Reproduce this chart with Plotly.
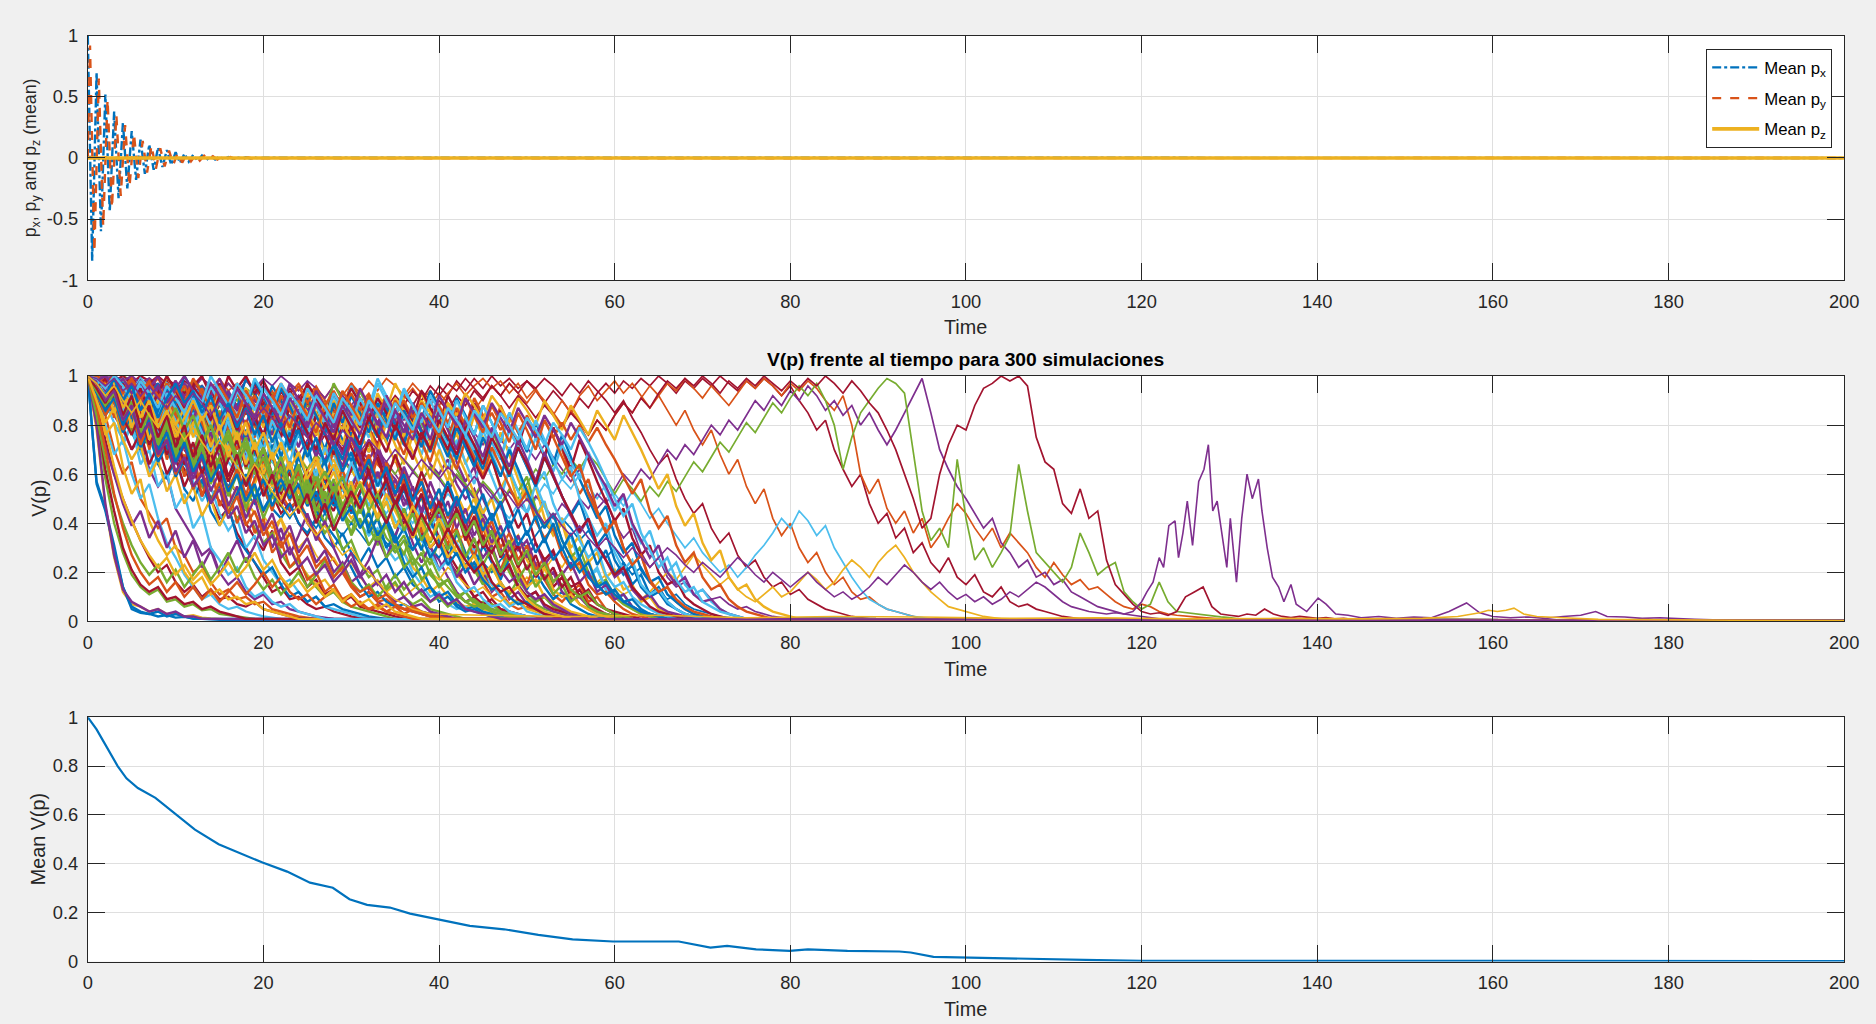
import plotly.graph_objects as go

# ---------------- colours (MATLAB default order) ----------------
C_BLUE, C_ORANGE, C_YELLOW = "#0072BD", "#D95319", "#EDB120"
C_PURPLE, C_GREEN, C_CYAN, C_RED = "#7E2F8E", "#77AC30", "#4DBEEE", "#A2142F"
PALETTE = [C_BLUE, C_ORANGE, C_YELLOW, C_PURPLE, C_GREEN, C_CYAN, C_RED]

# ---------------- axis ticks ----------------
x_ticks = [0, 20, 40, 60, 80, 100, 120, 140, 160, 180, 200]
x_tick_labels = ["0", "20", "40", "60", "80", "100", "120", "140", "160", "180", "200"]
p_ticks = [-1, -0.5, 0, 0.5, 1]
p_tick_labels = ["-1", "-0.5", "0", "0.5", "1"]
v_ticks = [0, 0.2, 0.4, 0.6, 0.8, 1]
v_tick_labels = ["0", "0.2", "0.4", "0.6", "0.8", "1"]
T_END = 200

# ---------------- top panel: mean px, py, pz ----------------
P_DT = 0.5
px_v = [1, -.84, .70, -.6, .52, -.44, .38, -.33, .29, -.25, .22, -.18, .15, -.13, .11, -.097,
        .085, -.074, .065, -.056, .048, -.041, .035, -.03, .026, -.023, .02, -.017, .015, -.013,
        .011, -.0095, .008, -.007, .0062, -.0055, .005, -.0043, .0037, -.0032, .003]
py_v0 = 0
py_v = [.92, -.77, .65, -.56, .48, -.41, .355, -.31, .27, -.235, .2, -.165, .14, -.12, .103, -.09,
        .08, -.07, .06, -.052, .044, -.038, .032, -.028, .024, -.021, .018, -.016, .014, -.012,
        .0102, -.0088, .0075, -.0065, .0058, -.0051, .0046, -.004, .0035, -.003]
py_offset = 0.25
pz_t = [0, 200]
pz_v = [0, 0]

# ---------------- middle panel: V(p) simulations, values at t = 0, 1, 2, ... ----------------
SIM_DT = 1.0
TAIL_V = 0.002

# group read as fractions
sim_a1 = [1, .56, .45, .3, .14, .05, .035, .03, .02, .025, .015, .018, .012, .01, .008, .006]
sim_a2 = [1, .78, .47, .26, .12, .07, .06, .04, .05, .03, .035, .02, .025, .015, .012, .01, .008]
sim_a3 = [1, .83, .58, .4, .28, .19, .14, .11, .13, .08, .09, .06, .07, .045, .05, .03, .025, .02, .015, .01]
sim_a4 = [1, .9, .74, .6, .5, .41, .33, .26, .2, .23, .16, .12, .15, .1, .13, .09, .1, .07, .06, .08, .05, .04, .03, .02, .015, .01]
sim_a5 = [1, .94, .8, .68, .74, .6, .5, .56, .42, .32, .26, .19, .14, .09, .11, .07, .05, .06, .04, .03, .02, .015, .01]
sim_a6 = [1, .9, .84, .7, .6, .65, .5, .44, .38, .42, .3, .27, .2, .23, .16, .11, .13, .09, .1, .07, .08, .05, .04, .03, .02, .015, .01]
sim_a7 = [1, .97, .9, .84, .78, .7, .75, .62, .55, .6, .46, .4, .34, .27, .3, .2, .15, .18, .12, .09, .11, .07, .08, .05, .04, .03, .02, .015, .01]

sim_b1 = [1, .96, .91, .84, .9, .77, .7, .76, .64, .58, .67, .54, .49, .58, .45, .39, .47, .34, .29, .24, .19, .22, .15, .1, .12, .08, .1, .06, .07, .05, .04, .03, .02, .015, .01]
sim_b2 = [1, 1, .95, .89, .95, .84, .9, .79, .74, .82, .7, .64, .72, .6, .54, .49, .44, .52, .4, .34, .29, .37, .24, .19, .22, .14, .17, .11, .13, .08, .1, .06, .05, .04, .03, .02, .015, .01]
sim_b3 = [1, .98, 1, .94, .87, .92, .85, .79, .86, .9, .81, .74, .69, .78, .64, .59, .54, .62, .49, .44, .39, .34, .42, .3, .24, .19, .15, .17, .12, .09, .11, .07, .05, .06, .04, .03, .02, .015, .01]
sim_b4 = [1, .94, .89, .81, .74, .8, .69, .61, .68, .72, .6, .65, .57, .49, .55, .44, .37, .42, .3, .35, .25, .2, .15, .17, .12, .08, .1, .06, .05, .04, .03, .02, .015, .01]
sim_b5 = [1, 1, .98, 1, .95, .9, .97, .92, .85, .9, .95, .88, .82, .86, .78, .72, .8, .75, .68, .6, .65, .55, .5, .45, .5, .4, .35, .3, .25, .2, .15, .1, .12, .08, .06, .07, .05, .04, .03, .02, .015, .01]
sim_b6 = [1, .96, .9, .93, .86, .8, .84, .76, .7, .74, .66, .6, .64, .55, .5, .56, .48, .42, .46, .38, .32, .36, .28, .22, .25, .18, .14, .1, .12, .08, .06, .05, .04, .03, .02, .01]
sim_b7 = [1, .99, .97, .93, .96, .9, .94, .88, .92, .86, .8, .85, .78, .82, .76, .7, .74, .66, .7, .62, .56, .6, .52, .46, .5, .42, .36, .3, .25, .2, .14, .1, .12, .08, .09, .06, .05, .04, .03, .02, .01]
sim_b8 = [1, .98, .92, .96, .88, .82, .86, .78, .72, .76, .68, .62, .55, .6, .5, .42, .46, .36, .3, .24, .18, .12, .14, .09, .1, .07, .05, .06, .04, .03, .02, .015, .01]
sim_b9 = [1, 1, .97, .99, .94, .97, .9, .94, .88, .84, .9, .85, .8, .86, .82, .76, .8, .72, .78, .7, .64, .68, .6, .55, .6, .5, .45, .4, .35, .3, .22, .15, .1, .12, .08, .06, .07, .05, .04, .03, .02, .015, .01]

sim_c1 = [1, 1, .98, 1, .97, .99, .95, .98, .93, .97, .92, .96, .9, .94, .88, .93, .9, .86, .92, .88, .84, .9, .85, .8, .86, .82, .78, .84, .76, .72, .78, .7, .66, .72, .62, .58, .5, .44, .38, .3, .25, .18, .12, .08, .1, .06, .05, .04, .03, .02, .015, .01]
sim_c2 = [1, .97, .93, .96, .9, .85, .9, .83, .78, .84, .8, .74, .7, .76, .68, .72, .65, .6, .66, .58, .62, .55, .6, .52, .56, .48, .52, .45, .5, .42, .46, .4, .35, .38, .3, .25, .28, .2, .15, .1, .12, .07, .05, .06, .04, .03, .02, .015, .01]
sim_c3 = [1, .99, .96, .98, .94, .9, .95, .88, .92, .85, .8, .86, .78, .74, .8, .7, .66, .72, .64, .58, .62, .55, .5, .56, .48, .52, .45, .5, .55, .48, .42, .46, .4, .35, .4, .32, .28, .22, .18, .12, .15, .1, .08, .06, .07, .05, .04, .03, .02, .015, .01]
sim_c4 = [1, 1, 1, .98, 1, .97, 1, .98, .95, .99, .96, .93, .97, .94, .9, .95, .92, .88, .93, .9, .86, .9, .84, .88, .82, .78, .84, .8, .75, .7, .76, .68, .62, .66, .58, .52, .56, .46, .4, .44, .34, .28, .22, .16, .1, .12, .07, .05, .04, .03, .02, .015, .01]
sim_c5 = [1, .98, .94, .97, .91, .95, .88, .92, .86, .82, .88, .8, .76, .82, .74, .7, .76, .68, .72, .64, .6, .66, .58, .62, .54, .58, .5, .46, .52, .44, .4, .46, .38, .42, .34, .3, .35, .26, .22, .26, .18, .14, .1, .12, .07, .08, .05, .04, .03, .02, .01]
sim_c6 = [1, 1, .97, .99, .95, .98, .93, .96, .99, .94, .97, .92, .95, .9, .94, .88, .92, .86, .9, .84, .88, .92, .85, .8, .86, .82, .76, .8, .74, .7, .75, .68, .72, .64, .6, .66, .56, .5, .54, .46, .4, .34, .38, .28, .22, .16, .1, .12, .07, .05, .06, .04, .03, .02, .01]
sim_c7 = [1, .96, .9, .94, .86, .9, .82, .78, .84, .76, .7, .74, .66, .62, .68, .6, .55, .6, .52, .48, .54, .46, .42, .48, .4, .36, .42, .34, .3, .36, .28, .24, .3, .22, .26, .18, .22, .15, .12, .14, .08, .1, .06, .04, .05, .03, .02, .015, .01]
sim_c8 = [1, 1, .99, 1, .98, 1, .97, .99, .96, .98, .94, .97, .93, .96, .92, .95, .9, .94, .88, .92, .96, .9, .94, .88, .92, .86, .9, .84, .88, .82, .86, .8, .84, .78, .74, .8, .72, .68, .74, .64, .6, .66, .56, .5, .54, .44, .38, .3, .22, .15, .1, .12, .06, .04, .03, .02, .01]
sim_c9 = [1, .98, 1, .96, .99, .94, .97, .92, .95, .9, .94, .88, .92, .86, .9, .84, .88, .82, .86, .8, .76, .82, .74, .7, .76, .68, .72, .64, .68, .6, .56, .62, .54, .5, .56, .48, .44, .5, .42, .38, .44, .36, .32, .26, .3, .2, .15, .1, .06, .08, .04, .03, .02, .01]
sim_c10 = [1, .97, .92, .95, .88, .84, .9, .82, .78, .72, .78, .7, .65, .72, .6, .66, .58, .52, .58, .5, .45, .52, .44, .48, .4, .35, .42, .5, .45, .55, .5, .6, .54, .48, .55, .46, .4, .45, .36, .3, .34, .25, .2, .15, .1, .07, .09, .05, .04, .03, .02, .01]
sim_c11 = [1, 1, .98, .95, .98, .92, .96, .9, .94, .88, .82, .88, .8, .85, .9, .84, .88, .8, .75, .8, .72, .78, .7, .75, .68, .62, .68, .6, .66, .58, .62, .55, .6, .52, .58, .5, .54, .46, .5, .42, .46, .38, .32, .36, .28, .22, .16, .1, .07, .09, .05, .04, .03, .02, .01]
sim_c12 = [1, .99, 1, .97, 1, .98, .95, .99, .96, .93, .97, .94, .98, .95, .92, .96, .93, .9, .95, .92, .88, .93, .9, .86, .91, .88, .84, .9, .86, .82, .88, .84, .8, .86, .82, .78, .84, .8, .75, .7, .76, .68, .62, .56, .5, .42, .35, .28, .2, .14, .1, .07, .05, .04, .03, .02, .01]

sim_d1 = [1, .98, 1, .96, .99, .94, .98, .95, .99, .93, .97, .92, .96, .9, .95, .99, .94, .97, .91, .95,
          .89, .94, .88, .93, .97, .92, .96, .9, .85, .9, .84, .89, .93, .87, .92, .86, .91, .95, .9, .94,
          .88, .93, .97, .92, .96, .99, .95, .98, .93, .97, .91, .95, .89, .84, .9, .85, .92, .96, .9, .94,
          .98, .93, .97, .92, .87, .92, .86, .8, .86, .78, .72, .78, .68, .6, .66, .55, .48, .54, .42, .35,
          .4, .3, .24, .28, .2, .15, .18, .12, .09, .1, .07, .05, .04, .03, .02, .01]
sim_d2 = [1, 1, .97, 1, .98, .95, .99, .96, 1, .97, .94, .98, .95, .99, .96, .92, .97, .93, .98, .95,
          .91, .86, .92, .88, .83, .89, .85, .8, .86, .82, .77, .83, .79, .85, .9, .86, .92, .88, .94, .9,
          .96, .92, .98, .94, .99, .95, 1, .96, .99, .95, .98, .94, .89, .94, .9, .85, .91, .87, .93, .97,
          .93, .98, .95, .99, .96, 1, .97, .93, .98, .95, .99, .96, 1, .97, .94, .98, .95, .99, .96, .92,
          .96, .9, .85, .78, .82, .7, .62, .55, .6, .48, .4, .44, .34, .38, .28, .32, .24, .2, .26, .18,
          .15, .19, .12, .1, .14, .08, .06, .07, .05, .04, .03, .02, .015, .01]
sim_d3 = [1, .97, .93, .97, .91, .95, .89, .94, .9, .85, .91, .86, .81, .87, .82, .78, .84, .8, .75, .81,
          .76, .71, .77, .73, .68, .74, .7, .65, .71, .67, .62, .68, .64, .59, .65, .6, .55, .61, .57, .63,
          .58, .53, .59, .55, .5, .56, .52, .47, .53, .49, .45, .51, .47, .42, .48, .44, .5, .46, .52, .48,
          .54, .6, .56, .62, .58, .64, .7, .66, .72, .68, .74, .8, .76, .82, .78, .84, .9, .86, .92, .88,
          .94, .9, .96, .92, .86, .9, .84, .88, .8, .85, .78, .72, .78, .85, .92, .99, .85, .7, .62, .55,
          .5, .44, .38, .42, .32, .28, .22, .25, .18, .2, .15, .17, .12, .1, .08, .06, .05, .04, .03, .025,
          .02, .015, .01]
sim_d4 = [1, .96, .92, .95, .89, .93, .87, .82, .88, .84, .79, .85, .8, .75, .81, .77, .72, .78, .74, .69,
          .75, .7, .65, .71, .67, .62, .68, .64, .7, .66, .61, .67, .63, .58, .64, .6, .66, .62, .57, .63,
          .59, .54, .6, .56, .51, .57, .53, .48, .54, .5, .56, .62, .58, .64, .6, .66, .62, .68, .64, .58,
          .52, .58, .54, .49, .55, .51, .57, .53, .59, .65, .61, .67, .73, .69, .75, .81, .77, .83, .89, .85,
          .91, .96, .92, .97, .9, .8, .62, .75, .85, .9, .95, .99, .97, .93, .7, .45, .33, .38, .3, .66,
          .42, .25, .3, .22, .28, .35, .64, .45, .28, .24, .2, .16, .22, .36, .28, .19, .22, .24, .12, .08,
          .05, .07, .16, .08, .04, .035, .03, .025, .02, .018, .015, .01]
sim_d5 = [1, .95, .98, .92, .86, .91, .85, .8, .86, .81, .76, .82, .77, .72, .78, .73, .68, .74, .69, .64,
          .7, .65, .6, .66, .61, .56, .62, .57, .52, .58, .53, .48, .54, .49, .44, .5, .45, .4, .46, .41,
          .47, .52, .48, .54, .5, .45, .51, .46, .42, .48, .44, .5, .56, .52, .58, .54, .6, .55, .5, .56,
          .52, .47, .53, .48, .42, .46, .4, .35, .3, .34, .28, .24, .2, .23, .18, .22, .27, .31, .36, .42,
          .38, .45, .41, .35, .39, .3, .24, .18, .13, .09, .07, .05, .04, .03, .02, .015, .01]
sim_d6 = [1, .94, .88, .92, .85, .79, .84, .77, .71, .76, .7, .64, .69, .62, .57, .63, .58, .52, .57, .51,
          .46, .52, .47, .42, .48, .43, .38, .44, .39, .35, .4, .36, .31, .36, .32, .28, .33, .29, .34, .3,
          .26, .31, .27, .23, .28, .24, .2, .25, .29, .34, .3, .35, .4, .36, .42, .38, .33, .37, .31, .26,
          .3, .24, .19, .22, .16, .12, .09, .11, .07, .05, .04, .03, .02, .015, .01]
sim_d7 = [1, .96, .9, .94, .87, .82, .88, .81, .75, .8, .73, .67, .72, .65, .6, .54, .59, .52, .46, .5,
          .43, .38, .42, .35, .3, .34, .27, .22, .26, .2, .24, .18, .14, .17, .12, .15, .1, .13, .16, .2,
          .17, .22, .19, .15, .12, .14, .1, .08, .11, .14, .18, .15, .21, .26, .22, .28, .24, .2, .16, .19,
          .14, .11, .13, .09, .12, .16, .2, .17, .22, .27, .23, .19, .15, .18, .13, .1, .08, .11, .14, .1,
          .12, .16, .2, .17, .13, .16, .21, .25, .22, .18, .24, .28, .31, .26, .2, .16, .12, .09, .06, .05,
          .04, .03, .02, .015, .01]
sim_d8 = [1, .98, .95, .99, .96, .92, .97, .94, .9, .95, .91, .87, .92, .88, .84, .9, .86, .81, .87, .83,
          .89, .85, .9, .95, .91, .96, .92, .88, .93, .89, .84, .9, .86, .81, .86, .82, .77, .83, .79, .85,
          .9, .86, .92, .88, .94, .9, .96, .92, .97, .93, .98, .95, .99, .96, .92, .97, .93, .98, .94, .9,
          .85, .9, .83, .77, .7, .64, .68, .58, .5, .44, .48, .38, .32, .36, .27, .22, .25, .18, .14, .16,
          .11, .13, .09, .07, .05, .04, .03, .02, .015, .01]
sim_d9 = [1, .97, .93, .97, .92, .88, .93, .89, .84, .9, .86, .81, .87, .83, .78, .84, .8, .75, .81, .77,
          .82, .87, .83, .89, .85, .9, .95, .91, .96, .92, .97, .93, .98, .94, .99, .96, .92, .97, .93, .88,
          .93, .89, .84, .9, .86, .91, .96, .92, .97, .93, .89, .94, .9, .85, .8, .86, .81, .76, .82, .78,
          .84, .89, .85, .91, .96, .92, .97, .94, .99, .95, .91, .96, .92, .88, .93, .98, .95, .99, .96, .92,
          .97, .94, .98, .95, .9, .86, .92, .8, .6, .52, .58, .46, .4, .45, .36, .42, .3, .35, .42, .48,
          .44, .38, .33, .38, .3, .36, .32, .28, .22, .18, .24, .19, .15, .17, .13, .14, .11, .08, .06, .05,
          .07, .06, .04, .03, .025, .02, .018, .015, .012, .01]
sim_d10 = [1, .98, 1, .96, .99, .95, .98, .94, .97, .93, .96, .92, .95, .99, .96, .92, .97, .93, .98, .95,
           .99, .96, 1, .97, .94, .98, .95, .91, .96, .92, .88, .93, .89, .85, .9, .86, .82, .87, .83, .79,
           .84, .8, .76, .81, .77, .72, .78, .74, .7, .75, .71, .66, .72, .67, .62, .57, .62, .53, .46, .5,
           .4, .34, .38, .28, .22, .26, .18, .14, .16, .11, .13, .09, .1, .07, .05, .06, .04, .03, .02, .015, .01]

sim_e1 = [1, 1, .97, .99, .95, .98, .93, .96, .91, .95, .9, .86, .91, .87, .82, .88, .84, .79, .85, .81,
          .76, .82, .78, .73, .79, .75, .7, .76, .72, .78, .83, .79, .85, .81, .87, .92, .88, .94, .9, .96,
          .92, .97, .94, .99, .95, .91, .96, .92, .87, .92, .88, .83, .88, .84, .79, .85, .81, .76, .82, .78,
          .84, .89, .85, .91, .87, .93, .98, .95, .99, .96, 1, .97, .93, .98, .95, .99, .96, 1, .97, .94,
          .98, .95, .99, .96, 1, .97, .93, .98, .94, .89, .85, .78, .7, .6, .5, .38, .42, .6, .72, .8,
          .78, .88, .95, .97, 1, .98, 1, .96, .75, .65, .62, .48, .44, .54, .42, .45, .25, .15, .11, .07,
          .04, .03, .035, .025, .04, .1, .12, .14, .06, .03, .025, .02, .03, .025, .05, .03, .02, .015, .02, .015,
          .012, .015, .01, .012, .008, .01, .008, .006, .007, .005]
sim_e2 = [1, .99, .96, .99, .94, .97, .92, .96, .91, .87, .92, .88, .93, .89, .84, .9, .86, .81, .86, .82,
          .87, .83, .78, .84, .8, .75, .81, .77, .72, .78, .74, .69, .74, .7, .65, .7, .66, .61, .66, .62,
          .58, .63, .59, .54, .59, .55, .5, .55, .51, .46, .5, .45, .4, .44, .39, .35, .39, .34, .3, .34,
          .3, .26, .3, .26, .22, .26, .3, .27, .23, .2, .24, .21, .18, .22, .26, .23, .19, .16, .2, .17,
          .14, .17, .2, .16, .13, .1, .12, .09, .11, .14, .18, .15, .19, .23, .2, .16, .13, .16, .12, .09,
          .11, .08, .1, .07, .09, .12, .1, .13, .16, .14, .11, .08, .06, .05, .04, .035, .03, .035, .03]
sim_e2_late_t = [119, 120, 120.6, 121.3, 122, 122.5, 123.1, 123.8, 124.2, 124.7, 125.2, 125.8, 126.5,
                 127.1, 127.6, 128.1, 128.6, 129.2, 129.7, 130.1, 130.8, 131.4, 132, 132.6, 133.3,
                 133.7, 134.3, 134.9, 135.6, 136.2, 137, 137.6, 138.8, 140.1, 141, 142.1, 143.5, 145,
                 147, 149, 151, 153, 155, 157, 158.5, 160, 162, 164, 166, 168, 170, 171.7, 173, 175,
                 177, 179, 181, 183, 185, 188, 190]
sim_e2_late_v = [.04, .08, .12, .16, .26, .22, .39, .41, .26, .36, .49, .31, .57,
                 .62, .72, .45, .49, .35, .22, .42, .16, .42, .6, .5, .58,
                 .45, .3, .18, .14, .08, .15, .07, .04, .095, .07, .03, .025, .015,
                 .02, .012, .018, .015, .04, .075, .035, .02, .015, .018, .012, .02, .025, .04, .02, .018,
                 .012, .015, .01, .008, .006, .004, .003]
sim_e4 = [1, .97, .92, .96, .9, .85, .9, .84, .79, .85, .8, .74, .79, .73, .68, .74, .69, .63, .58, .64,
          .59, .53, .48, .43, .47, .4, .35, .39, .32, .27, .3, .24, .2, .16, .12, .09, .07, .05, .04, .03]
sim_e4_late_t = [45, 55, 65, 75, 85, 95, 105, 115, 125, 135, 145, 152, 156, 158.5, 159.5, 160.5,
                 161.5, 162.4, 163.5, 165, 168, 172]
sim_e4_late_v = [.025, .02, .025, .015, .02, .018, .012, .015, .01, .012, .01, .012, .02, .035, .045,
                 .04, .045, .054, .03, .02, .015, .008]

# dense "wall" group, read in percent
PCT = 0.01
wall_01 = [100, 57, 46, 31, 14, 6, 4, 3, 4, 2, 3, 2, 1]
wall_02 = [100, 80, 48, 27, 13, 8, 6, 4, 5, 3, 4, 2, 2, 1]
wall_03 = [100, 85, 62, 45, 30, 21, 15, 12, 14, 9, 10, 7, 8, 5, 6, 4, 3, 2, 1]
wall_04 = [100, 92, 76, 81, 63, 52, 58, 41, 33, 27, 31, 20, 15, 18, 11, 13, 9, 10, 7, 8, 5, 4, 3, 2, 1]
wall_05 = [100, 96, 84, 90, 72, 80, 64, 70, 55, 61, 46, 52, 38, 44, 30, 25, 19, 22, 14, 10, 12, 8, 6, 7, 4, 3, 2, 1]
wall_06 = [100, 91, 98, 83, 94, 77, 88, 70, 82, 66, 75, 59, 70, 51, 63, 47, 55, 40, 49, 36, 42, 28, 33, 22, 26, 17, 20, 12, 15, 9, 11, 7, 5, 6, 4, 3, 2, 1]
wall_07 = [100, 97, 85, 99, 88, 76, 91, 80, 94, 83, 72, 87, 78, 90, 74, 86, 68, 79, 62, 74, 58, 69, 53, 64, 47, 58, 43, 36, 41, 29, 33, 24, 18, 21, 13, 16, 10, 7, 9, 5, 4, 3, 2, 1]
wall_08 = [100, 100, 92, 99, 86, 95, 80, 91, 97, 85, 93, 78, 89, 96, 84, 72, 88, 79, 92, 83, 70, 81, 67, 77, 61, 73, 57, 66, 50, 59, 44, 51, 36, 42, 30, 35, 24, 18, 22, 14, 10, 12, 7, 5, 6, 4, 3, 2, 1]
wall_09 = [100, 94, 87, 95, 79, 88, 73, 84, 69, 78, 64, 72, 58, 67, 53, 61, 47, 55, 42, 50, 37, 44, 33, 39, 28, 34, 24, 29, 20, 24, 16, 19, 13, 16, 11, 8, 10, 6, 7, 4, 3, 2, 1]
wall_10 = [100, 99, 93, 100, 90, 97, 85, 94, 88, 99, 91, 82, 95, 87, 78, 90, 83, 96, 89, 80, 92, 84, 75, 88, 79, 70, 84, 76, 68, 80, 71, 63, 74, 66, 57, 68, 59, 50, 61, 52, 44, 55, 46, 38, 30, 35, 25, 19, 23, 14, 10, 12, 7, 5, 4, 3, 2, 1]
wall_11 = [100, 97, 100, 92, 99, 94, 86, 97, 90, 100, 93, 85, 96, 88, 79, 91, 84, 95, 87, 99, 92, 84, 96, 89, 81, 93, 85, 77, 90, 82, 73, 86, 78, 69, 81, 72, 64, 76, 67, 58, 70, 61, 52, 44, 50, 39, 31, 36, 25, 20, 14, 17, 10, 8, 6, 4, 3, 2, 1]
wall_12 = [100, 95, 88, 96, 82, 91, 77, 86, 71, 80, 66, 75, 62, 71, 56, 65, 51, 60, 46, 55, 42, 51, 47, 56, 50, 59, 45, 53, 40, 48, 35, 42, 31, 37, 26, 31, 22, 26, 17, 21, 14, 17, 11, 8, 6, 7, 4, 3, 2, 1]
wall_13 = [100, 100, 97, 100, 94, 99, 91, 97, 100, 93, 98, 90, 96, 100, 92, 97, 89, 95, 100, 93, 98, 91, 86, 94, 88, 97, 91, 84, 93, 87, 95, 89, 82, 91, 85, 78, 88, 81, 74, 85, 77, 70, 81, 73, 65, 58, 66, 55, 47, 38, 44, 32, 25, 29, 19, 14, 16, 10, 7, 5, 4, 3, 2, 1]
wall_14 = [100, 93, 84, 90, 78, 86, 72, 81, 67, 74, 60, 68, 54, 62, 48, 57, 44, 51, 39, 45, 35, 41, 30, 36, 26, 31, 22, 26, 18, 22, 15, 12, 14, 9, 11, 7, 5, 6, 4, 3, 2, 1]
wall_15 = [100, 98, 100, 96, 88, 97, 91, 83, 95, 87, 98, 91, 82, 93, 86, 76, 89, 80, 71, 84, 76, 88, 81, 72, 85, 77, 67, 80, 72, 63, 75, 67, 58, 70, 61, 51, 63, 54, 45, 57, 48, 39, 50, 41, 33, 26, 31, 21, 16, 19, 12, 9, 11, 7, 5, 3, 2, 1]
wall_16 = [100, 96, 90, 97, 86, 93, 81, 89, 76, 85, 92, 84, 77, 88, 80, 71, 83, 75, 66, 78, 70, 82, 74, 65, 77, 68, 59, 71, 62, 53, 65, 56, 47, 58, 50, 41, 36, 44, 33, 28, 21, 25, 16, 12, 14, 9, 6, 7, 4, 3, 2, 1]
wall_17 = [100, 99, 95, 100, 97, 91, 98, 93, 86, 95, 89, 100, 94, 87, 97, 90, 82, 93, 86, 98, 92, 84, 95, 88, 80, 91, 84, 76, 89, 81, 92, 85, 77, 89, 82, 74, 86, 79, 71, 83, 75, 67, 79, 71, 63, 75, 67, 59, 70, 62, 53, 45, 38, 44, 33, 26, 20, 24, 15, 11, 13, 8, 6, 4, 3, 2, 1]
wall_18 = [100, 92, 97, 85, 93, 79, 88, 74, 83, 90, 80, 87, 75, 84, 71, 80, 67, 77, 64, 73, 60, 69, 56, 65, 52, 61, 67, 58, 64, 55, 48, 57, 50, 43, 52, 45, 38, 47, 40, 33, 42, 35, 28, 22, 27, 18, 13, 16, 10, 7, 8, 5, 3, 2, 1]
wall_19 = [100, 100, 94, 99, 90, 97, 86, 95, 100, 92, 98, 89, 95, 84, 92, 99, 91, 86, 94, 88, 81, 92, 86, 97, 90, 83, 94, 87, 79, 91, 84, 95, 88, 80, 92, 85, 77, 89, 82, 74, 86, 78, 70, 82, 75, 67, 79, 71, 63, 74, 66, 57, 69, 60, 51, 43, 36, 42, 31, 25, 18, 21, 13, 9, 11, 6, 4, 3, 2, 1]
wall_20 = [100, 97, 89, 95, 84, 91, 78, 87, 73, 82, 68, 77, 63, 72, 80, 70, 78, 67, 75, 63, 71, 59, 67, 55, 63, 51, 59, 47, 55, 43, 50, 38, 45, 33, 39, 28, 33, 23, 28, 19, 15, 17, 11, 8, 9, 6, 4, 3, 2, 1]
wall_21 = [100, 98, 92, 99, 95, 88, 96, 90, 83, 93, 87, 80, 91, 84, 96, 89, 82, 94, 88, 99, 93, 86, 97, 91, 84, 95, 89, 82, 93, 87, 80, 91, 85, 97, 90, 83, 94, 88, 81, 92, 86, 79, 90, 83, 76, 88, 81, 73, 85, 78, 70, 82, 74, 66, 58, 63, 50, 42, 35, 40, 28, 21, 25, 15, 11, 13, 8, 5, 3, 2, 1]
wall_22 = [100, 95, 99, 91, 97, 88, 95, 85, 93, 100, 94, 87, 96, 90, 82, 92, 86, 78, 89, 83, 76, 87, 80, 73, 84, 77, 70, 81, 74, 86, 79, 72, 83, 76, 69, 80, 73, 66, 77, 70, 82, 75, 68, 79, 72, 64, 75, 68, 60, 71, 64, 56, 67, 59, 51, 44, 37, 42, 31, 25, 19, 22, 14, 10, 6, 4, 3, 2, 1]
wall_23 = [100, 93, 86, 91, 80, 87, 75, 82, 70, 77, 65, 73, 61, 68, 57, 64, 53, 60, 49, 56, 45, 52, 58, 50, 56, 47, 53, 44, 50, 41, 47, 38, 44, 35, 41, 32, 38, 29, 35, 26, 32, 23, 28, 20, 24, 17, 13, 15, 10, 7, 8, 5, 3, 2, 1]
wall_24 = [100, 100, 96, 100, 93, 98, 90, 97, 92, 86, 95, 89, 99, 93, 87, 96, 90, 83, 94, 88, 81, 92, 86, 79, 90, 84, 77, 88, 82, 94, 88, 81, 92, 86, 79, 90, 84, 77, 89, 82, 75, 86, 79, 91, 84, 77, 88, 81, 73, 85, 78, 70, 82, 75, 67, 59, 64, 52, 44, 36, 41, 30, 23, 27, 17, 12, 14, 9, 6, 4, 3, 2, 1]
wall_25 = [100, 96, 91, 98, 87, 94, 83, 90, 79, 86, 75, 83, 90, 82, 88, 78, 85, 74, 81, 70, 77, 66, 73, 62, 69, 58, 65, 54, 61, 50, 57, 46, 53, 42, 49, 38, 44, 34, 40, 30, 35, 26, 31, 22, 27, 19, 23, 15, 12, 14, 9, 6, 4, 3, 2, 1]
wall_26 = [100, 98, 100, 95, 99, 93, 98, 91, 96, 89, 95, 100, 94, 90, 97, 92, 86, 95, 89, 83, 93, 87, 81, 91, 85, 79, 89, 83, 77, 88, 82, 76, 87, 81, 75, 86, 80, 74, 85, 79, 92, 86, 80, 91, 85, 79, 89, 83, 77, 87, 81, 75, 84, 78, 72, 81, 75, 68, 61, 55, 47, 52, 40, 33, 26, 31, 20, 15, 18, 11, 8, 9, 5, 3, 2, 1]
wall_27 = [100, 94, 88, 93, 82, 90, 77, 85, 72, 80, 87, 78, 84, 73, 80, 69, 76, 64, 72, 60, 67, 56, 63, 52, 59, 48, 55, 61, 53, 59, 49, 56, 45, 52, 41, 48, 37, 44, 33, 40, 46, 38, 44, 35, 41, 31, 37, 27, 33, 23, 29, 19, 24, 16, 20, 13, 10, 12, 7, 5, 3, 2, 1]
wall_28 = [100, 99, 95, 100, 96, 90, 98, 93, 87, 96, 91, 85, 94, 89, 100, 94, 88, 97, 92, 86, 95, 90, 84, 93, 88, 82, 92, 87, 81, 91, 86, 80, 90, 85, 79, 89, 84, 78, 88, 83, 77, 87, 82, 76, 86, 81, 75, 85, 80, 74, 83, 78, 72, 81, 76, 70, 79, 73, 66, 58, 50, 43, 48, 36, 29, 22, 26, 17, 12, 14, 8, 6, 4, 3, 2, 1]
wall_29 = [100, 95, 89, 96, 84, 92, 79, 88, 75, 84, 71, 80, 67, 76, 63, 72, 59, 68, 55, 64, 51, 60, 47, 56, 44, 52, 40, 48, 37, 45, 53, 46, 54, 47, 40, 49, 42, 35, 44, 37, 30, 38, 31, 25, 20, 24, 16, 12, 14, 9, 7, 5, 3, 2, 1]
wall_30 = [100, 97, 92, 99, 90, 96, 86, 93, 83, 91, 97, 89, 94, 85, 92, 82, 89, 79, 87, 76, 84, 73, 81, 70, 78, 67, 75, 64, 72, 61, 69, 58, 66, 55, 63, 52, 60, 49, 57, 46, 54, 43, 51, 40, 47, 37, 44, 34, 41, 31, 37, 28, 34, 25, 30, 22, 26, 18, 14, 16, 11, 8, 9, 5, 3, 2, 1]
wall_31 = [100, 88, 70, 52, 38, 27, 20, 15, 18, 12, 16, 10, 14, 9, 13, 8, 12, 16, 11, 15, 20, 14, 18, 12, 9, 11, 7, 10, 13, 9, 6, 8, 5, 7, 4, 6, 3, 5, 3, 2, 1]
wall_32 = [100, 90, 78, 63, 50, 41, 33, 27, 22, 26, 19, 23, 17, 21, 15, 19, 24, 18, 22, 28, 21, 25, 18, 14, 17, 12, 15, 10, 13, 8, 11, 7, 9, 5, 7, 4, 3, 2, 1]
wall_33 = [100, 97, 90, 94, 82, 88, 75, 81, 68, 74, 61, 67, 55, 60, 48, 54, 42, 47, 36, 41, 31, 35, 26, 30, 22, 26, 19, 23, 16, 20, 25, 18, 22, 15, 19, 12, 16, 10, 13, 8, 11, 7, 9, 5, 4, 3, 2, 1]
wall_34 = [100, 92, 99, 85, 93, 78, 87, 96, 84, 73, 86, 77, 68, 81, 70, 59, 72, 63, 51, 64, 55, 45, 58, 49, 62, 53, 66, 57, 70, 61, 74, 65, 54, 67, 56, 45, 58, 47, 36, 49, 40, 31, 44, 35, 26, 38, 29, 21, 30, 22, 15, 24, 17, 11, 8, 12, 7, 5, 3, 2, 1]
wall_35 = [100, 96, 88, 94, 83, 90, 79, 71, 82, 74, 65, 77, 68, 80, 72, 63, 75, 66, 57, 69, 60, 51, 62, 54, 45, 56, 48, 40, 52, 44, 36, 47, 39, 31, 42, 34, 27, 38, 30, 23, 33, 25, 19, 28, 21, 15, 22, 16, 11, 17, 12, 8, 10, 6, 4, 3, 2, 1]
wall_36 = [100, 98, 91, 99, 93, 86, 95, 88, 80, 91, 83, 75, 87, 79, 70, 82, 74, 66, 78, 69, 60, 72, 64, 55, 67, 58, 49, 61, 53, 44, 56, 47, 38, 50, 42, 34, 46, 37, 29, 41, 33, 25, 36, 28, 21, 31, 24, 17, 26, 19, 13, 20, 14, 9, 12, 7, 5, 3, 2, 1]
wall_37 = [100, 86, 71, 60, 48, 39, 45, 34, 41, 30, 37, 26, 33, 22, 29, 19, 26, 33, 24, 31, 40, 30, 38, 27, 35, 44, 33, 41, 30, 22, 28, 19, 25, 34, 26, 35, 43, 32, 24, 31, 21, 27, 18, 23, 15, 20, 12, 16, 9, 12, 7, 5, 3, 2, 1]
wall_38 = [100, 94, 85, 91, 79, 70, 77, 64, 72, 60, 67, 55, 63, 51, 58, 67, 57, 65, 74, 63, 71, 60, 52, 61, 49, 58, 46, 55, 64, 53, 62, 71, 60, 69, 57, 48, 56, 44, 52, 40, 48, 37, 45, 33, 41, 30, 37, 26, 33, 22, 28, 18, 23, 14, 18, 10, 13, 7, 5, 3, 2, 1]
wall_39 = [100, 90, 81, 87, 74, 66, 72, 59, 66, 53, 60, 48, 55, 43, 50, 39, 46, 55, 47, 56, 64, 55, 63, 72, 62, 70, 79, 68, 77, 86, 76, 84, 92, 83, 91, 80, 88, 77, 85, 73, 81, 69, 77, 64, 72, 59, 67, 54, 61, 48, 55, 42, 48, 36, 42, 30, 35, 24, 28, 18, 21, 13, 15, 8, 10, 5, 3, 2, 1]
wall_40 = [100, 97, 90, 98, 92, 84, 94, 87, 79, 90, 82, 74, 85, 77, 68, 80, 71, 62, 74, 65, 76, 68, 80, 72, 84, 76, 88, 80, 92, 84, 96, 88, 80, 91, 83, 74, 86, 77, 68, 80, 71, 62, 74, 65, 56, 68, 59, 50, 62, 53, 44, 56, 47, 38, 29, 35, 24, 18, 22, 13, 9, 11, 6, 4, 3, 2, 1]
wall_41 = [100, 95, 86, 93, 81, 89, 76, 84, 71, 79, 66, 74, 61, 70, 57, 66, 53, 62, 49, 58, 66, 56, 64, 53, 61, 49, 57, 45, 53, 62, 51, 60, 68, 57, 65, 54, 62, 50, 58, 46, 54, 42, 50, 38, 46, 34, 41, 30, 36, 25, 31, 21, 26, 16, 20, 12, 15, 8, 10, 5, 3, 2, 1]
wall_42 = [100, 84, 66, 51, 40, 31, 24, 19, 23, 16, 21, 14, 19, 24, 17, 22, 28, 20, 26, 18, 13, 17, 11, 15, 20, 14, 19, 25, 18, 23, 16, 12, 15, 10, 14, 19, 13, 17, 11, 8, 10, 6, 9, 12, 8, 5, 7, 4, 3, 2, 1]
wall_43 = [100, 98, 93, 99, 95, 89, 97, 91, 85, 94, 88, 82, 92, 86, 80, 90, 84, 78, 88, 82, 75, 86, 79, 72, 83, 76, 69, 80, 73, 66, 77, 70, 82, 75, 87, 80, 72, 84, 77, 69, 81, 74, 66, 78, 70, 62, 74, 67, 59, 71, 63, 55, 67, 59, 51, 43, 49, 38, 31, 36, 25, 19, 23, 14, 10, 12, 7, 5, 3, 2, 1]
wall_44 = [100, 93, 85, 92, 80, 88, 75, 83, 70, 78, 65, 73, 60, 69, 77, 67, 75, 64, 72, 61, 69, 58, 66, 54, 63, 51, 60, 48, 57, 45, 54, 63, 52, 61, 50, 58, 47, 55, 44, 52, 41, 49, 38, 46, 35, 42, 32, 39, 29, 35, 26, 32, 23, 28, 19, 24, 16, 20, 12, 15, 9, 11, 6, 4, 3, 2, 1]
wall_45 = [100, 99, 96, 100, 97, 93, 99, 95, 90, 97, 93, 88, 96, 91, 86, 94, 89, 84, 93, 88, 83, 92, 87, 81, 90, 85, 79, 89, 84, 78, 88, 83, 77, 87, 82, 76, 86, 80, 74, 84, 78, 72, 82, 76, 70, 80, 74, 67, 78, 71, 64, 75, 68, 61, 72, 65, 58, 69, 61, 53, 45, 51, 39, 32, 37, 26, 20, 24, 15, 11, 13, 8, 5, 3, 2, 1]
wall_46 = [100, 92, 84, 90, 77, 84, 71, 78, 65, 72, 59, 66, 54, 61, 49, 56, 44, 52, 60, 50, 58, 47, 55, 63, 53, 61, 50, 58, 47, 55, 44, 52, 60, 49, 57, 46, 54, 43, 51, 40, 48, 57, 47, 55, 44, 52, 41, 49, 38, 46, 35, 43, 32, 40, 29, 36, 26, 33, 23, 29, 19, 24, 15, 19, 11, 14, 8, 5, 3, 2, 1]
wall_47 = [100, 98, 94, 99, 96, 91, 98, 94, 89, 96, 92, 87, 95, 90, 85, 93, 88, 83, 92, 87, 82, 91, 86, 80, 90, 85, 79, 89, 84, 78, 88, 83, 77, 87, 82, 91, 86, 80, 90, 85, 79, 89, 84, 93, 88, 82, 92, 87, 81, 91, 86, 80, 90, 84, 78, 88, 82, 76, 86, 80, 74, 84, 77, 70, 62, 54, 60, 47, 39, 44, 32, 25, 29, 18, 13, 15, 9, 6, 4, 3, 2, 1]
wall_48 = [100, 96, 89, 95, 84, 91, 79, 87, 74, 82, 69, 77, 64, 72, 59, 67, 75, 65, 73, 62, 70, 59, 67, 56, 64, 53, 61, 50, 58, 47, 55, 44, 52, 41, 49, 38, 46, 35, 43, 32, 40, 29, 37, 26, 34, 23, 30, 20, 27, 17, 23, 14, 19, 11, 15, 8, 11, 6, 4, 3, 2, 1]
wall_49 = [100, 93, 87, 94, 83, 76, 85, 72, 80, 68, 76, 64, 73, 60, 69, 57, 66, 74, 63, 71, 60, 68, 57, 65, 54, 62, 51, 59, 48, 56, 45, 53, 61, 50, 58, 47, 55, 44, 52, 41, 49, 38, 46, 35, 43, 32, 28, 35, 25, 31, 21, 27, 17, 22, 14, 18, 10, 13, 7, 5, 3, 2, 1]
wall_50 = [100, 100, 97, 100, 95, 99, 93, 98, 91, 97, 90, 96, 89, 95, 88, 94, 87, 93, 86, 92, 85, 91, 97, 90, 96, 89, 95, 88, 94, 87, 93, 86, 92, 85, 91, 84, 90, 83, 89, 82, 88, 81, 87, 80, 86, 79, 85, 78, 84, 77, 83, 76, 82, 75, 81, 74, 80, 73, 79, 72, 66, 59, 52, 58, 45, 38, 43, 31, 24, 28, 18, 13, 15, 9, 6, 4, 3, 2, 1]
wall_51 = [100, 96, 100, 93, 85, 94, 88, 97, 91, 84, 95, 89, 80, 92, 86, 77, 90, 83, 95, 88, 79, 91, 84, 74, 86, 78, 68, 80, 72, 84, 76, 88, 81, 93, 86, 97, 90, 82, 93, 86, 77, 89, 81, 72, 84, 75, 65, 77, 68, 58, 49, 55, 42, 35, 40, 28, 21, 25, 15, 11, 13, 8, 5, 3, 2, 1]
wall_52 = [100, 94, 87, 95, 88, 80, 91, 97, 90, 83, 93, 86, 78, 88, 96, 89, 81, 70, 82, 74, 63, 75, 67, 79, 71, 83, 92, 85, 77, 89, 81, 94, 87, 99, 92, 84, 95, 88, 79, 90, 82, 73, 85, 76, 66, 78, 69, 59, 71, 61, 51, 43, 49, 37, 30, 35, 24, 18, 21, 13, 9, 11, 6, 4, 3, 2, 1]
wall_53 = [100, 99, 94, 100, 96, 89, 98, 92, 85, 95, 89, 82, 93, 86, 78, 90, 83, 75, 87, 80, 72, 84, 77, 90, 83, 95, 89, 81, 93, 86, 97, 91, 84, 76, 88, 81, 73, 85, 78, 70, 82, 74, 86, 79, 91, 84, 76, 88, 80, 72, 84, 76, 67, 79, 70, 60, 52, 58, 45, 37, 42, 30, 23, 27, 16, 12, 14, 8, 5, 3, 2, 1]
wall_54 = [100, 97, 92, 98, 90, 83, 93, 86, 79, 70, 82, 74, 64, 76, 67, 57, 69, 60, 72, 64, 76, 68, 81, 73, 86, 79, 92, 85, 97, 90, 82, 94, 87, 79, 91, 84, 76, 88, 81, 73, 86, 79, 71, 83, 75, 66, 78, 70, 61, 53, 59, 46, 39, 44, 33, 26, 30, 20, 15, 17, 10, 7, 5, 3, 2, 1]
wall_55 = [100, 100, 95, 99, 92, 97, 90, 84, 94, 88, 81, 91, 85, 78, 89, 82, 93, 87, 99, 93, 86, 96, 90, 83, 75, 86, 79, 70, 82, 74, 65, 77, 69, 81, 73, 85, 77, 89, 82, 94, 87, 80, 91, 84, 76, 88, 81, 73, 85, 77, 69, 81, 73, 64, 76, 67, 58, 50, 42, 47, 35, 28, 32, 21, 16, 18, 11, 8, 5, 3, 2, 1]
wall_56 = [100, 95, 89, 96, 90, 83, 92, 85, 77, 88, 80, 72, 84, 76, 89, 82, 94, 87, 80, 91, 84, 76, 88, 80, 71, 82, 74, 65, 76, 68, 80, 72, 84, 77, 89, 82, 74, 86, 78, 70, 82, 74, 65, 57, 63, 50, 42, 48, 36, 29, 33, 23, 17, 20, 12, 9, 10, 6, 4, 3, 2, 1]
wall_57 = [100, 98, 93, 99, 95, 88, 96, 91, 84, 94, 87, 80, 90, 83, 95, 89, 100, 94, 87, 97, 91, 84, 94, 88, 81, 91, 85, 78, 89, 82, 75, 86, 79, 72, 84, 77, 89, 82, 94, 87, 80, 92, 85, 78, 89, 82, 74, 86, 79, 71, 83, 75, 67, 79, 71, 62, 74, 66, 57, 49, 41, 46, 34, 27, 31, 20, 15, 17, 10, 7, 5, 3, 2, 1]
wall_58 = [100, 93, 86, 94, 87, 79, 89, 82, 74, 85, 78, 70, 81, 74, 66, 78, 70, 83, 76, 88, 81, 73, 85, 78, 90, 83, 76, 87, 80, 72, 84, 77, 69, 81, 73, 65, 77, 69, 61, 73, 65, 57, 69, 61, 52, 44, 50, 38, 31, 35, 25, 19, 22, 13, 10, 11, 7, 5, 3, 2, 1]
wall_59 = [100, 99, 95, 100, 97, 92, 99, 95, 89, 97, 92, 86, 95, 90, 84, 93, 88, 82, 92, 87, 81, 91, 86, 80, 90, 85, 79, 89, 84, 77, 88, 82, 75, 87, 81, 74, 85, 79, 72, 84, 77, 70, 82, 75, 68, 80, 73, 66, 78, 71, 63, 55, 61, 48, 40, 45, 33, 26, 30, 19, 14, 16, 10, 7, 5, 3, 2, 1]
wall_60 = [100, 96, 90, 97, 92, 85, 94, 88, 81, 91, 84, 77, 88, 81, 73, 85, 78, 70, 82, 75, 87, 80, 92, 86, 79, 90, 84, 77, 88, 81, 74, 86, 79, 71, 83, 76, 68, 80, 73, 65, 77, 70, 62, 74, 67, 59, 71, 63, 55, 47, 53, 41, 34, 38, 27, 21, 24, 15, 11, 12, 8, 5, 3, 2, 1]

# drawing order with MATLAB colour-order index for each simulation
frac_sims = [
    (sim_c12, 4), (sim_d2, 6), (sim_b5, 3), (sim_a4, 6), (sim_c6, 1), (sim_d9, 1),
    (sim_b2, 6), (sim_c1, 3), (sim_a7, 3), (sim_d1, 1), (sim_c4, 6), (sim_b7, 1),
    (sim_d10, 3), (sim_a6, 1), (sim_c8, 3), (sim_b3, 2), (sim_c11, 2), (sim_a2, 2),
    (sim_c5, 4), (sim_b6, 4), (sim_c3, 2), (sim_a3, 4), (sim_d8, 6), (sim_c10, 6),
    (sim_b8, 6), (sim_d5, 5), (sim_c2, 5), (sim_a5, 5), (sim_b4, 5), (sim_c9, 5),
    (sim_d6, 0), (sim_c7, 0), (sim_b1, 0), (sim_a1, 0), (sim_b9, 0), (sim_d7, 2),
    (sim_d3, 3), (sim_d4, 4), (sim_e1, 6),
]
late_sims = [
    (sim_e2, sim_e2_late_t, sim_e2_late_v, 3),
    (sim_e4, sim_e4_late_t, sim_e4_late_v, 2),
]
pct_sims = [wall_01, wall_34, wall_51, wall_02, wall_35, wall_52, wall_03, wall_36, wall_53, wall_04,
            wall_37, wall_54, wall_05, wall_38, wall_55, wall_06, wall_39, wall_56, wall_07, wall_40,
            wall_57, wall_08, wall_41, wall_58, wall_09, wall_42, wall_59, wall_10, wall_43, wall_60,
            wall_11, wall_44, wall_12, wall_45, wall_13, wall_46, wall_14, wall_47, wall_15, wall_48,
            wall_16, wall_49, wall_17, wall_50, wall_18, wall_19, wall_20, wall_21, wall_22, wall_23,
            wall_24, wall_25, wall_26, wall_27, wall_28, wall_29, wall_30, wall_31, wall_32, wall_33]

# ---------------- bottom panel: mean V(p) ----------------
mean_t = [0, 1, 1.8, 2.6, 3.4, 4.4, 5.7, 7.7, 10, 12.2, 14.9, 17.5, 19.9, 22.7, 25.3, 27.9, 29.8,
          31.8, 34.4, 36.7, 39.9, 43.5, 47.4, 51.3, 55.2, 59.8, 63.7, 67.3, 70.9, 72.8, 76.1, 79.9,
          82, 86.5, 92.4, 93.7, 96.3, 99.9, 105, 110, 115, 120, 130, 140, 150, 160, 170, 180, 190, 200]
mean_v = [1, .95, .9, .85, .8, .75, .71, .67, .605, .54, .48, .44, .405, .368, .323, .302, .255,
          .232, .221, .196, .173, .146, .132, .109, .091, .082, .082, .082, .057, .064, .05, .044,
          .05, .044, .041, .037, .019, .016, .012, .01, .006, .003, .003, .003, .002, .002, .002,
          .002, .002, .002]

# ---------------- figure ----------------
W, H = 1876, 1024
FONT = "Liberation Sans, Arial, Helvetica, sans-serif"
INK = "#262626"
GRID = "#dfdfdf"
W_WALL, W_EARLY, W_LONG, W_LATE = 2.4, 2.3, 1.7, 1.6
LONG_LEN = 60

# measured placement of the page in the captured picture (offset px, scale)
CAP_AX, CAP_SX = 4.7, 0.9894
CAP_AY, CAP_SY = 8.7, 0.981
FS = 1.015  # font compensation for that scale


def fx(px):
    return ((px - CAP_AX) / CAP_SX) / W


def fy(py):
    return 1 - ((py - CAP_AY) / CAP_SY) / H


fig = go.Figure()

px_t = [i * P_DT for i in range(len(px_v))] + [T_END]
py_t = [0] + [py_offset + i * P_DT for i in range(len(py_v))] + [T_END]
fig.add_trace(go.Scatter(x=px_t, y=px_v + [0], mode="lines", name="Mean p<sub>x</sub>",
                         line=dict(color=C_BLUE, width=2.4, dash="dashdot"),
                         xaxis="x", yaxis="y", legendgroup="a"))
fig.add_trace(go.Scatter(x=py_t, y=[py_v0] + py_v + [0], mode="lines", name="Mean p<sub>y</sub>",
                         line=dict(color=C_ORANGE, width=2.4, dash="dash"),
                         xaxis="x", yaxis="y", legendgroup="b"))
fig.add_trace(go.Scatter(x=pz_t, y=pz_v, mode="lines", name="Mean p<sub>z</sub>",
                         line=dict(color=C_YELLOW, width=3.6),
                         xaxis="x", yaxis="y", legendgroup="c"))


def add_sim(xs, ys, color, width):
    fig.add_trace(go.Scatter(x=xs, y=ys, mode="lines", showlegend=False,
                             line=dict(color=color, width=width),
                             xaxis="x2", yaxis="y2", hoverinfo="skip"))


for vals, ci in frac_sims:
    add_sim([i * SIM_DT for i in range(len(vals))] + [T_END], list(vals) + [TAIL_V],
            PALETTE[ci], W_LONG if len(vals) > LONG_LEN else W_EARLY)
for k, vals in enumerate(pct_sims):
    add_sim([i * SIM_DT for i in range(len(vals))] + [T_END],
            [v * PCT for v in vals] + [TAIL_V], PALETTE[k % len(PALETTE)], W_WALL)
for vals, lt, lv, ci in late_sims:
    add_sim([i * SIM_DT for i in range(len(vals))] + lt + [T_END], list(vals) + lv + [TAIL_V],
            PALETTE[ci], W_LATE)

fig.add_trace(go.Scatter(x=mean_t, y=mean_v, mode="lines", showlegend=False,
                         line=dict(color=C_BLUE, width=2.2),
                         xaxis="x3", yaxis="y3"))

xdom = [fx(87.5), fx(1844)]
doms = [(fy(278.3), fy(33.5)), (fy(620), fy(374.3)), (fy(960.7), fy(716))]


def xax(anchor):
    return dict(domain=xdom, anchor=anchor, range=[0, T_END], tickmode="array",
                tickvals=x_ticks, ticktext=x_tick_labels, showgrid=True, gridcolor=GRID,
                gridwidth=1, zeroline=False, showline=True, linecolor=INK, linewidth=1,
                mirror="ticks", ticks="inside", ticklen=17, tickcolor=INK, tickwidth=1,
                tickfont=dict(family=FONT, size=18 * FS, color=INK), ticklabelstandoff=5)


def yax(anchor, dom, rng, tv, tt):
    return dict(domain=list(dom), anchor=anchor, range=rng, tickmode="array",
                tickvals=tv, ticktext=tt, showgrid=True, gridcolor=GRID, gridwidth=1,
                zeroline=False, showline=True, linecolor=INK, linewidth=1, mirror="ticks",
                ticks="inside", ticklen=17, tickcolor=INK, tickwidth=1,
                tickfont=dict(family=FONT, size=18 * FS, color=INK), ticklabelstandoff=5)


annots = []
for yc in (325.4, 667.6, 1008.5):
    annots.append(dict(text="Time", x=fx(965.75), y=fy(yc), xref="paper", yref="paper",
                       showarrow=False, xanchor="center", yanchor="middle",
                       font=dict(family=FONT, size=19.5 * FS, color=INK)))
annots.append(dict(text="p<sub>x</sub>, p<sub>y</sub> and p<sub>z</sub> (mean)", x=fx(31),
                   y=fy(156), xref="paper", yref="paper", showarrow=False, textangle=-90,
                   xanchor="center", yanchor="middle",
                   font=dict(family=FONT, size=17.5 * FS, color=INK)))
annots.append(dict(text="V(p)", x=fx(38), y=fy(497), xref="paper", yref="paper",
                   showarrow=False, textangle=-90, xanchor="center", yanchor="middle",
                   font=dict(family=FONT, size=19.5 * FS, color=INK)))
annots.append(dict(text="Mean V(p)", x=fx(38), y=fy(838), xref="paper", yref="paper",
                   showarrow=False, textangle=-90, xanchor="center", yanchor="middle",
                   font=dict(family=FONT, size=19.5 * FS, color=INK)))
annots.append(dict(text="<b>V(p) frente al tiempo para 300 simulaciones</b>", x=fx(965.75),
                   y=fy(358), xref="paper", yref="paper", showarrow=False,
                   xanchor="center", yanchor="middle",
                   font=dict(family=FONT, size=19 * FS, color="#000000")))

fig.update_layout(
    width=W, height=H, margin=dict(l=0, r=0, t=0, b=0),
    paper_bgcolor="#f0f0f0", plot_bgcolor="#ffffff",
    xaxis=xax("y"), yaxis=yax("x", doms[0], [-1, 1], p_ticks, p_tick_labels),
    xaxis2=xax("y2"), yaxis2=yax("x2", doms[1], [0, 1], v_ticks, v_tick_labels),
    xaxis3=xax("y3"), yaxis3=yax("x3", doms[2], [0, 1], v_ticks, v_tick_labels),
    showlegend=True,
    legend=dict(x=fx(1832), y=fy(46.7), xanchor="right", yanchor="top",
                bgcolor="#ffffff", bordercolor=INK, borderwidth=1,
                font=dict(family=FONT, size=16.5 * FS, color="#000000"),
                itemwidth=47, tracegroupgap=6),
    annotations=annots,
)

fig.write_html("out.html", post_script="document.body.style.background='#f0f0f0';")
